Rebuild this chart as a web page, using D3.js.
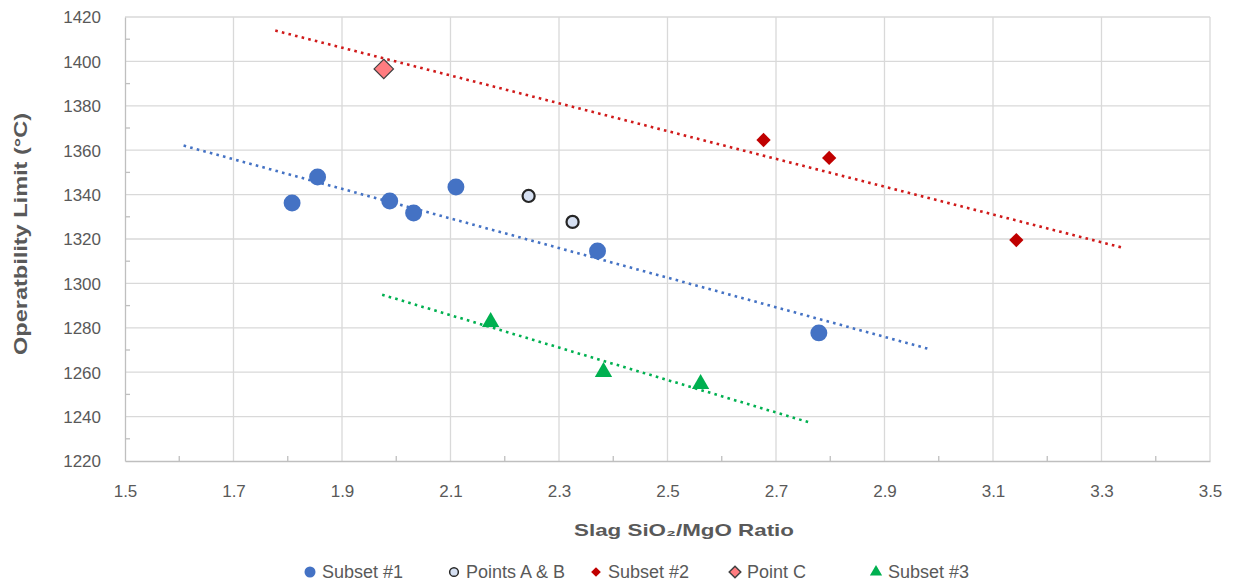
<!DOCTYPE html>
<html>
<head>
<meta charset="utf-8">
<script src="https://cdn.jsdelivr.net/npm/d3@7"></script>
<style>
  html, body { margin: 0; padding: 0; background: #fff; }
  svg { display: block; font-family: "Liberation Sans", "DejaVu Sans", sans-serif; }
</style>
</head>
<body>
<svg id="chart" width="1233" height="582"></svg>
<script>
// ---- data ----
const subset1X = [1.808, 1.855, 1.988, 2.032, 2.110, 2.371, 2.779];
const subset1Y = [1336.2, 1347.9, 1337.1, 1331.7, 1343.4, 1314.6, 1277.7];
const pointsABX = [2.244, 2.325];
const pointsABY = [1339.4, 1327.7];
const subset2X = [2.677, 2.798, 3.143];
const subset2Y = [1364.6, 1356.5, 1319.5];
const pointCX = [1.977];
const pointCY = [1396.6];
const subset3X = [2.174, 2.382, 2.561];
const subset3Y = [1282.6, 1260.1, 1254.7];
const xTicks = [1.5, 1.7, 1.9, 2.1, 2.3, 2.5, 2.7, 2.9, 3.1, 3.3, 3.5];
const yTicks = [1220, 1240, 1260, 1280, 1300, 1320, 1340, 1360, 1380, 1400, 1420];
const legendLabels = ["Subset #1", "Points A & B", "Subset #2", "Point C", "Subset #3"];
const xTitle = "Slag SiO\u2082/MgO Ratio";
const yTitle = "Operatbility Limit (\u00B0C)";
const trendForecast = 0.2;

// ---- layout ----
const svg = d3.select("#chart");
const L = 125, R = 1210, T = 17, B = 461;
const x = d3.scaleLinear().domain([1.5, 3.5]).range([L, R]);
const y = d3.scaleLinear().domain([1220, 1420]).range([B, T]);
const gridColor = "#D9D9D9", axisColor = "#BFBFBF", textColor = "#595959";

// gridlines
const grid = svg.append("g");
grid.selectAll(".hg").data(yTicks.slice(1)).join("line")
  .attr("x1", L).attr("x2", R).attr("y1", d => y(d)).attr("y2", d => y(d))
  .attr("stroke", gridColor).attr("stroke-width", 1.3);
grid.selectAll(".vg").data(xTicks.slice(1)).join("line")
  .attr("x1", d => x(d)).attr("x2", d => x(d)).attr("y1", T).attr("y2", B)
  .attr("stroke", gridColor).attr("stroke-width", 1.3);

// axes
const xAxis = d3.axisBottom(x).tickValues(xTicks).tickFormat(d3.format(".1f")).tickSize(0).tickPadding(24);
const yAxis = d3.axisLeft(y).tickValues(yTicks).tickFormat(d3.format("d")).tickSize(0).tickPadding(24);
const gx = svg.append("g").attr("transform", `translate(0,${B})`).call(xAxis);
const gy = svg.append("g").attr("transform", `translate(${L},0)`).call(yAxis);
[gx, gy].forEach(g => {
  g.select(".domain").attr("stroke", axisColor).attr("stroke-width", 1.3);
  g.selectAll("text").attr("fill", textColor).style("font-size", "17px")
    .style("font-family", "'Liberation Sans', sans-serif");
});
gy.selectAll("text").attr("dy", "0.35em");

// minor ticks
const minorX = d3.range(1.6, 3.5, 0.2);
const minorY = d3.range(1230, 1420, 20);
svg.append("g").selectAll("line").data(minorX).join("line")
  .attr("x1", d => x(d)).attr("x2", d => x(d)).attr("y1", B).attr("y2", B - 5)
  .attr("stroke", axisColor).attr("stroke-width", 1.3);
svg.append("g").selectAll("line").data(minorY).join("line")
  .attr("x1", L).attr("x2", L + 5).attr("y1", d => y(d)).attr("y2", d => y(d))
  .attr("stroke", axisColor).attr("stroke-width", 1.3);

// axis titles
svg.append("text").attr("x", 684).attr("y", 536).attr("text-anchor", "middle")
  .attr("font-weight", "bold").attr("font-size", 17).attr("fill", textColor)
  .attr("textLength", 220).attr("lengthAdjust", "spacingAndGlyphs").text(xTitle);
svg.append("text").attr("transform", "translate(27,234) rotate(-90)").attr("text-anchor", "middle")
  .attr("font-weight", "bold").attr("font-size", 18).attr("fill", textColor)
  .attr("textLength", 242).attr("lengthAdjust", "spacingAndGlyphs").text(yTitle);

// trendlines (least squares, extended by forecast)
function trend(xs, ys) {
  const mx = d3.mean(xs), my = d3.mean(ys);
  const sxy = d3.sum(xs, (v, i) => (v - mx) * (ys[i] - my));
  const sxx = d3.sum(xs, v => (v - mx) * (v - mx));
  const m = sxy / sxx, b = my - m * mx;
  const x0 = d3.min(xs) - trendForecast, x1 = d3.max(xs) + trendForecast;
  return [[x0, m * x0 + b], [x1, m * x1 + b]];
}
const trends = [
  { pts: trend(subset1X, subset1Y), color: "#4472C4" },
  { pts: trend(subset2X.concat(pointCX), subset2Y.concat(pointCY)), color: "#D01A1A" },
  { pts: trend(subset3X, subset3Y), color: "#00B050" }
];
const line = d3.line().x(d => x(d[0])).y(d => y(d[1]));
svg.append("g").selectAll("path").data(trends).join("path")
  .attr("d", d => line(d.pts)).attr("fill", "none").attr("stroke", d => d.color)
  .attr("stroke-width", 2.6).attr("stroke-dasharray", "2.6,4.2");

// markers
const zip = (xs, ys) => xs.map((v, i) => [v, ys[i]]);
const sym = (type, size) => d3.symbol().type(type).size(size)();
const series = [
  { data: zip(subset1X, subset1Y), type: d3.symbolCircle, size: 225, fill: "#4472C4", stroke: "none", sw: 0 },
  { data: zip(pointsABX, pointsABY), type: d3.symbolCircle, size: 115, fill: "#D6E0F2", stroke: "#262626", sw: 2.2 },
  { data: zip(subset2X, subset2Y), type: d3.symbolDiamond2, size: 130, fill: "#C00000", stroke: "none", sw: 0 },
  { data: zip(pointCX, pointCY), type: d3.symbolDiamond2, size: 240, fill: "#FF7C80", stroke: "#404040", sw: 1.2 },
  { data: zip(subset3X, subset3Y), type: d3.symbolTriangle, size: 130, fill: "#00B050", stroke: "none", sw: 0 }
];
series.forEach(s => {
  svg.append("g").selectAll("path").data(s.data).join("path")
    .attr("d", sym(s.type, s.size))
    .attr("transform", d => `translate(${x(d[0])},${y(d[1])})`)
    .attr("fill", s.fill).attr("stroke", s.stroke).attr("stroke-width", s.sw);
});

// legend
const legendX = [310, 454, 596, 735, 876];
const legendSizes = [95, 60, 60, 85, 65];
const lg = svg.append("g");
series.forEach((s, i) => {
  const g = lg.append("g").attr("transform", `translate(${legendX[i]},572)`);
  g.append("path").attr("d", sym(s.type, legendSizes[i]))
    .attr("fill", s.fill).attr("stroke", s.stroke).attr("stroke-width", s.sw ? 1.5 : 0);
  g.append("text").attr("x", 12).attr("dy", "0.35em").attr("font-size", 18)
    .attr("fill", textColor).text(legendLabels[i]);
});
</script>
</body>
</html>
